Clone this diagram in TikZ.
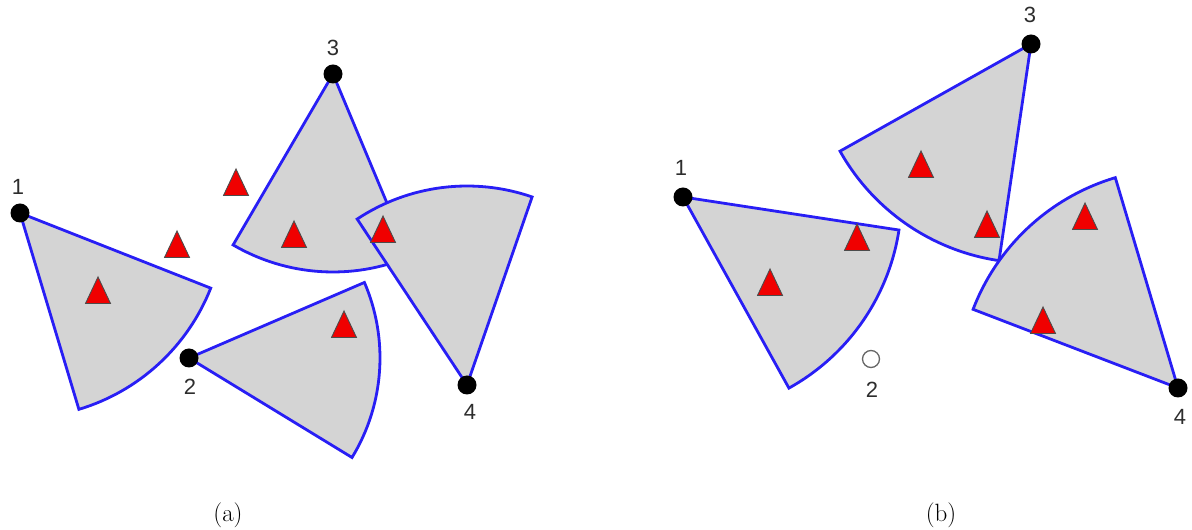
\documentclass[tikz,border=0pt]{standalone}
\usepackage{fontspec}
\newfontfamily\lblfont{Liberation Sans}
\usetikzlibrary{calc}
\definecolor{secgray}{RGB}{212,212,212}
\definecolor{secblue}{RGB}{40,30,245}
\definecolor{trired}{RGB}{240,0,0}
\definecolor{lblgray}{RGB}{45,45,45}
\tikzset{
  sector/.style={fill=secgray, draw=secblue, line width=2.8pt, line join=miter},
  apexdot/.style={circle, fill=black, inner sep=0pt, minimum size=19pt},
  opendot/.style={circle, draw=gray!80!black, line width=1.3pt, fill=white, inner sep=0pt, minimum size=17pt},
  numlbl/.style={font=\lblfont\fontsize{22}{24}\selectfont, text=lblgray, inner sep=0pt},
  caption/.style={font=\fontsize{25}{28}\selectfont, inner sep=0pt},
  redtri/.pic={\path[fill=trired, draw=black!70, line width=0.9pt] (-12.5,-12.5) -- (12.5,-12.5) -- (0,14) -- cycle;}
}
\begin{document}
\begin{tikzpicture}[x=1pt, y=1pt]
\useasboundingbox (0,0) rectangle (1192,530);
% ---------- panel (a) ----------
\coordinate (a1) at (20,317);
\coordinate (a2) at (189,172);
\coordinate (a3) at (333,456);
\coordinate (a4) at (467,145);
\path[sector] (a1) -- ++(-21.5:205) arc[start angle=-21.5, end angle=-73.3, radius=205] -- cycle;
\path[sector] (a2) -- ++(23.3:191) arc[start angle=23.3, end angle=-31.4, radius=191] -- cycle;
\path[sector] (a3) -- ++(-120.3:198) arc[start angle=-120.3, end angle=-67.3, radius=198] -- cycle;
\path[sector] (a4) -- ++(123.5:199) arc[start angle=123.5, end angle=70.9, radius=199] -- cycle;
\pic at (236,347) {redtri};
\pic at (177,285) {redtri};
\pic at (98,239) {redtri};
\pic at (294,295) {redtri};
\pic at (383,300) {redtri};
\pic at (344,205) {redtri};
\node[apexdot] (da1) at (a1) {};
\node[apexdot] (da2) at (a2) {};
\node[apexdot] (da3) at (a3) {};
\node[apexdot] (da4) at (a4) {};
\node[numlbl] (la1) at (18,343) {1};
\node[numlbl] (la2) at (190,143) {2};
\node[numlbl] (la3) at (333,482) {3};
\node[numlbl] (la4) at (470,118) {4};
\node[caption] (capa) at (228,15) {(a)};
% ---------- panel (b) ----------
\coordinate (b1) at (683,333);
\coordinate (b3) at (1031,486);
\coordinate (b4) at (1178,142);
\path[sector] (b1) -- ++(-8.7:218.5) arc[start angle=-8.7, end angle=-61.0, radius=218.5] -- cycle;
\path[sector] (b3) -- ++(-150.7:219) arc[start angle=-150.7, end angle=-98.4, radius=219] -- cycle;
\path[sector] (b4) -- ++(159.0:219.5) arc[start angle=159.0, end angle=106.6, radius=219.5] -- cycle;
\pic at (770,247) {redtri};
\pic at (857,292) {redtri};
\pic at (921,365) {redtri};
\pic at (987,305) {redtri};
\pic at (1085,313) {redtri};
\pic at (1043,209) {redtri};
\node[apexdot] (db1) at (b1) {};
\node[apexdot] (db3) at (b3) {};
\node[apexdot] (db4) at (b4) {};
\node[opendot] (db2) at (871,171) {};
\node[numlbl] (lb1) at (681,362) {1};
\node[numlbl] (lb2) at (872,140) {2};
\node[numlbl] (lb3) at (1030,515) {3};
\node[numlbl] (lb4) at (1180,113) {4};
\node[caption] (capb) at (941,15) {(b)};
\end{tikzpicture}
\end{document}
